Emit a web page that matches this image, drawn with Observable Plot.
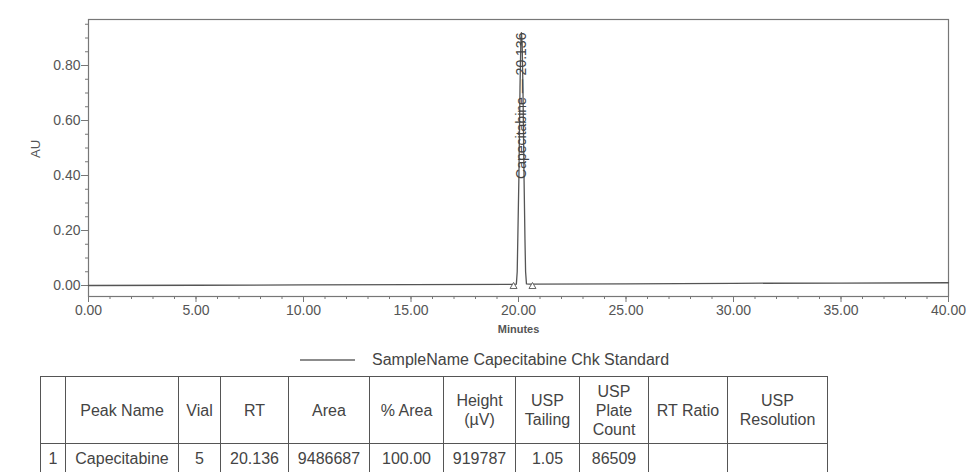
<!DOCTYPE html>
<html>
<head>
<meta charset="utf-8">
<script src="https://cdn.jsdelivr.net/npm/d3@7"></script>
<script src="https://cdn.jsdelivr.net/npm/@observablehq/plot@0.6"></script>
<style>
  body { margin: 0; background: #fff; font-family: Arial, "Liberation Sans", sans-serif; }
  #wrap { position: relative; width: 971px; height: 472px; overflow: hidden; background: #fff; }
  #chart { position: absolute; left: 0; top: 0; }
  #edge { position: absolute; left: 10px; top: 11px; width: 290px; height: 0; border-top: 1px solid #d6d6d6; }
  #legend { position: absolute; left: 300px; top: 350px; height: 20px; display: flex; align-items: center; color: #444; font-size: 16px; }
  #legend svg { margin-right: 17px; }
  #tbl { position: absolute; left: 40px; top: 376px; }
  table { border-collapse: collapse; color: #444; font-size: 16px; table-layout: fixed; }
  td, th { border: 1.5px solid #555; text-align: center; vertical-align: middle; padding: 0; font-weight: normal; white-space: pre-line; line-height: 19px; }
  thead tr { height: 67px; }
  tbody tr { height: 30px; }
</style>
</head>
<body>
<div id="wrap">
  <div id="edge"></div>
  <div id="chart"></div>
  <div id="legend"></div>
  <div id="tbl"></div>
</div>
<script>
// Detector trace (retention time in minutes, absorbance in AU)
const traceTime = [0, 5, 10, 15, 19.70, 19.90, 19.94, 19.97, 20.02, 20.07, 20.11, 20.136, 20.17, 20.21, 20.26, 20.30, 20.33, 20.37, 20.50, 25, 30, 35, 40];
const traceAU   = [0.000, 0.001, 0.002, 0.003, 0.004, 0.005, 0.05, 0.18, 0.40, 0.72, 0.89, 0.919787, 0.88, 0.70, 0.38, 0.17, 0.05, 0.006, 0.005, 0.006, 0.008, 0.009, 0.010];

// Integrated peak
const peakName = "Capecitabine";
const peakRT = 20.136;
const peakHeightUV = 919787;
const peakLimits = [19.77, 20.65];   // integration start / end markers

// Axis ticks
const xTicks = [0, 5, 10, 15, 20, 25, 30, 35, 40];
const yTicks = [0, 0.2, 0.4, 0.6, 0.8];

const sampleLabel = "SampleName Capecitabine Chk Standard";

// Peak results table
const tableHeader = ["", "Peak Name", "Vial", "RT", "Area", "% Area", "Height\n(µV)", "USP\nTailing", "USP\nPlate\nCount", "RT Ratio", "USP\nResolution"];
const tableRow    = ["1", "Capecitabine", "5", "20.136", "9486687", "100.00", "919787", "1.05", "86509", "", ""];
const columnWidths = [25, 113, 42, 68, 81, 74, 72, 64, 69, 79, 100];

const trace = traceTime.map((t, i) => ({t, au: traceAU[i]}));
const apexAU = peakHeightUV / 1e6;

const chart = Plot.plot({
  width: 971,
  height: 345,
  marginLeft: 88,
  marginRight: 23,
  marginTop: 19,
  marginBottom: 49,
  style: {fontFamily: "Arial, 'Liberation Sans', sans-serif", fontSize: "14px", color: "#555", background: "white"},
  x: {domain: [0, 40]},
  y: {domain: [-0.04, 0.9673]},
  marks: [
    Plot.frame({stroke: "#777", strokeWidth: 1.2}),
    // minor ticks
    Plot.axisX({ticks: 40, tickSize: 3, fill: "none", label: null, stroke: "#777"}),
    Plot.axisY({ticks: 20, tickSize: 3, fill: "none", label: null, stroke: "#777"}),
    // major ticks with labels
    Plot.axisX(xTicks, {tickSize: 6, tickPadding: 3, tickFormat: d => d.toFixed(2), label: null, stroke: "#777", fill: "#555"}),
    Plot.axisY(yTicks, {tickSize: 7, tickPadding: 1, tickFormat: d => d.toFixed(2), label: null, stroke: "#777", fill: "#555"}),
    Plot.text(["Minutes"], {frameAnchor: "bottom", dy: 36, fontSize: 11, fontWeight: 600, fill: "#555"}),
    Plot.text(["AU"], {frameAnchor: "left", dx: -53, rotate: -90, fontSize: 13, fill: "#555"}),
    // chromatogram
    Plot.line(trace, {x: "t", y: "au", stroke: "#555", strokeWidth: 1.3}),
    Plot.dot(peakLimits, {x: d => d, y: 0, symbol: "triangle", r: 2.6, stroke: "#666", fill: "white", strokeWidth: 1, dy: 1}),
    Plot.text([{t: peakRT, au: apexAU}], {
      x: "t", y: "au",
      text: d => `${peakName} — ${d.t.toFixed(3)}`,
      rotate: -90, textAnchor: "end", fontSize: 14, fill: "#444"
    })
  ]
});
document.getElementById("chart").appendChild(chart);

// legend
const legend = document.getElementById("legend");
legend.innerHTML = `<svg width="55" height="4"><line x1="0" x2="55" y1="2" y2="2" stroke="#666" stroke-width="1.5"/></svg><span>${sampleLabel}</span>`;

// results table
const table = document.createElement("table");
const colgroup = document.createElement("colgroup");
columnWidths.forEach(w => { const c = document.createElement("col"); c.style.width = w + "px"; colgroup.appendChild(c); });
table.appendChild(colgroup);
const thead = document.createElement("thead");
const hr = document.createElement("tr");
tableHeader.forEach(h => { const th = document.createElement("th"); th.textContent = h; hr.appendChild(th); });
thead.appendChild(hr);
table.appendChild(thead);
const tbody = document.createElement("tbody");
const br = document.createElement("tr");
tableRow.forEach(v => { const td = document.createElement("td"); td.textContent = v; br.appendChild(td); });
tbody.appendChild(br);
table.appendChild(tbody);
document.getElementById("tbl").appendChild(table);
</script>
</body>
</html>
